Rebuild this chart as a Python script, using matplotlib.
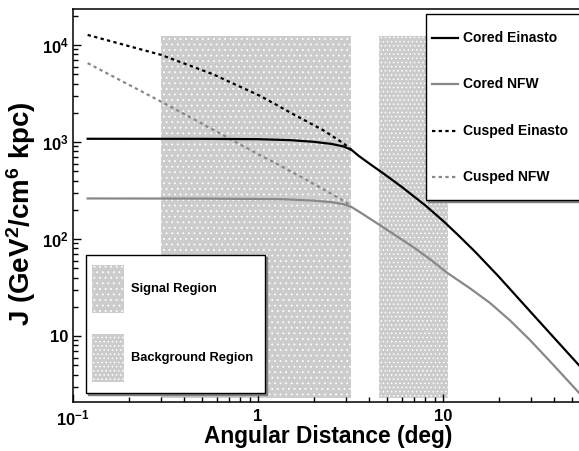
import numpy as np
import matplotlib
matplotlib.use('Agg')
import matplotlib.pyplot as plt
from matplotlib.ticker import LogLocator, FuncFormatter, NullFormatter
from matplotlib.patches import Rectangle
from matplotlib.lines import Line2D

plt.rcParams['font.family'] = ['Liberation Sans', 'DejaVu Sans']
plt.rcParams['font.weight'] = 'bold'
plt.rcParams['mathtext.fontset'] = 'custom'
plt.rcParams['mathtext.rm'] = 'Liberation Sans:bold'
plt.rcParams['mathtext.bf'] = 'Liberation Sans:bold'
plt.rcParams['mathtext.it'] = 'Liberation Sans:bold'
plt.rcParams['hatch.linewidth'] = 0.6

# --- data (angular distance in deg, J in GeV^2/cm^6 kpc) ---
cored_einasto_deg = [0.12, 0.5, 1.0, 1.5, 2.0, 2.5, 2.9, 3.2, 3.5, 3.9, 5.0, 6.0, 8.0,
                     10.0, 12.0, 15.0, 20.0, 30.0, 40.0, 54.3]
cored_einasto_j = [1080, 1078, 1070, 1045, 1005, 955, 900, 830, 720, 620, 443, 343, 223,
                   154, 111, 73, 41, 17.4, 9.5, 5.0]

cored_nfw_deg = [0.12, 0.5, 1.31, 2.0, 2.5, 2.9, 3.2, 3.6, 4.56, 5.5, 6.88, 8.5, 10.5,
                 14.0, 17.9, 23.0, 29.5, 40.0, 54.3]
cored_nfw_j = [262, 261, 258, 249, 240, 228, 214, 186, 139, 110, 83, 62, 45,
               31, 22, 14.5, 9.1, 4.9, 2.6]

cusped_einasto_deg = [0.12, 0.3, 0.57, 1.03, 1.62, 2.24, 2.88, 3.2]
cusped_einasto_j = [12700, 7900, 5000, 2980, 1850, 1330, 977, 830]

cusped_nfw_deg = [0.12, 0.2, 0.3, 0.5, 1.0, 1.31, 2.0, 2.45, 3.0, 3.2]
cusped_nfw_j = [6500, 3900, 2600, 1540, 750, 575, 370, 298, 238, 214]

signal_region = (0.3, 3.2)
background_region = (4.5, 10.7)
region_j = (2.3, 12400)

W, H = 579, 451
fig = plt.figure(figsize=(W / 100, H / 100), dpi=100)
ax = fig.add_axes([73 / W, 49 / H, 506 / W, 393 / H])

sig_style = dict(facecolor='#cccccc', edgecolor='white', hatch='...', linewidth=0)
bkg_style = dict(facecolor='#cccccc', edgecolor='white', hatch='....', linewidth=0)
ax.fill_between(signal_region, region_j[0], region_j[1], zorder=1, **sig_style)
ax.fill_between(background_region, region_j[0], region_j[1], zorder=1, **bkg_style)

styles = [
    dict(color='black', lw=1.6),
    dict(color='#888888', lw=1.6),
    dict(color='black', lw=1.6, linestyle=(0, (1.5, 1.5))),
    dict(color='#888888', lw=1.6, linestyle=(0, (1.5, 1.5))),
]
ax.plot(cored_einasto_deg, cored_einasto_j, zorder=4, **styles[0])
ax.plot(cored_nfw_deg, cored_nfw_j, zorder=3, **styles[1])
ax.plot(cusped_einasto_deg, cusped_einasto_j, zorder=3, **styles[2])
ax.plot(cusped_nfw_deg, cusped_nfw_j, zorder=3, **styles[3])

ax.set_xscale('log')
ax.set_yscale('log')
ax.set_xlim(0.1, 54.3)
ax.set_ylim(2.09, 23500)

ax.xaxis.set_major_locator(LogLocator(base=10, numticks=10))
ax.xaxis.set_minor_locator(LogLocator(base=10, subs=np.arange(2, 10), numticks=20))
ax.yaxis.set_major_locator(LogLocator(base=10, numticks=10))
ax.yaxis.set_minor_locator(LogLocator(base=10, subs=np.arange(2, 10), numticks=20))


def fmt(v, pos):
    e = int(round(np.log10(v)))
    if e == 0:
        return '1'
    if e == 1:
        return '10'
    return '$10^{%d}$' % e


ax.xaxis.set_major_formatter(FuncFormatter(fmt))
ax.yaxis.set_major_formatter(FuncFormatter(fmt))
ax.xaxis.set_minor_formatter(NullFormatter())
ax.yaxis.set_minor_formatter(NullFormatter())

ax.tick_params(which='both', direction='in', top=False, right=False, labelsize=12)
ax.tick_params(which='major', length=6, width=1)
ax.tick_params(which='minor', length=3.5, width=1)
ax.tick_params(axis='x', pad=5)
ax.tick_params(axis='y', pad=3)

for s in ['left', 'bottom', 'top']:
    ax.spines[s].set_linewidth(1.1)
ax.spines['right'].set_visible(False)

ax.set_xlabel('Angular Distance (deg)', fontsize=16.4, fontweight='bold')
ax.xaxis.set_label_coords(0.504, -0.058)
ax.set_ylabel('J (GeV$^{2}$/cm$^{6}$ kpc)', fontsize=20, fontweight='bold')
ax.yaxis.set_label_coords(-0.07, 0.48)


# --- ROOT style legends, drawn in figure pixels ---
def px(x, y):
    return x / W, 1 - y / H


def legend_box(x0, y0, x1, y1):
    for dx, col in [(2, '0.5'), (0, 'white')]:
        fig.add_artist(Rectangle(px(x0 + dx, y1 + dx), (x1 - x0) / W, (y1 - y0) / H,
                                 transform=fig.transFigure, facecolor=col,
                                 edgecolor='black' if dx == 0 else col,
                                 linewidth=1.0, zorder=5))


line_labels = ['Cored Einasto', 'Cored NFW', 'Cusped Einasto', 'Cusped NFW']
legend_box(426, 14, 600, 200)
for i, (lab, st) in enumerate(zip(line_labels, styles)):
    yc = 37.5 + i * 46.5
    (xa, ya), (xb, _) = px(432, yc), px(458, yc)
    fig.add_artist(Line2D([xa, xb], [ya, ya], transform=fig.transFigure, zorder=6, **st))
    fig.text(*px(463, yc), lab, fontsize=10, fontweight='bold', va='center', ha='left', zorder=6)

legend_box(86, 255, 265, 393)
for lab, st, (ya, yb) in [('Signal Region', sig_style, (265, 313)),
                          ('Background Region', bkg_style, (334, 382))]:
    fig.add_artist(Rectangle(px(92, yb), 32 / W, (yb - ya) / H, transform=fig.transFigure,
                             zorder=6, **st))
    fig.text(*px(131, (ya + yb) / 2), lab, fontsize=9.3, fontweight='bold',
             va='center', ha='left', zorder=6)

fig.savefig('out.png', dpi=100)
